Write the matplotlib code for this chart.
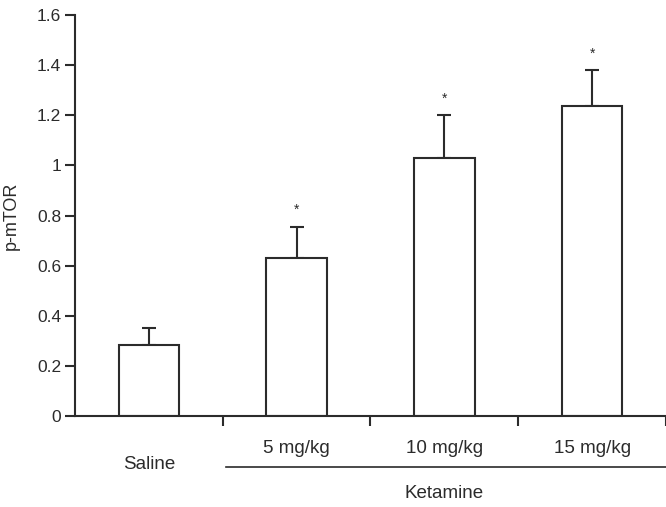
import matplotlib.pyplot as plt

plt.rcParams['font.family'] = ['Liberation Sans', 'DejaVu Sans']

groups = ["Saline", "5 mg/kg", "10 mg/kg", "15 mg/kg"]
means = [0.285, 0.63, 1.03, 1.235]
errors = [0.065, 0.125, 0.17, 0.145]
stars = ["", "*", "*", "*"]

ink = "#2b2b2b"
fig = plt.figure(figsize=(6.66, 5.07), dpi=100)
ax = fig.add_axes([0.1126, 0.1795, 0.8874, 0.7909])

x = range(len(groups))
ax.bar(x, means, width=0.41, color="white", edgecolor=ink, linewidth=1.5, zorder=2)
ax.errorbar(x, means, yerr=[[0] * len(errors), errors], fmt="none", ecolor=ink,
            elinewidth=1.5, capsize=5, capthick=1.5, zorder=1)
for i, (m, e, s) in enumerate(zip(means, errors, stars)):
    if s:
        ax.annotate(s, (i, m + e), xytext=(0, 7), textcoords="offset points",
                    ha="center", va="bottom", fontsize=10, color=ink)

ax.set_xlim(-0.5, 3.5)
ax.set_ylim(0, 1.6)
ax.set_yticks([0, 0.2, 0.4, 0.6, 0.8, 1, 1.2, 1.4, 1.6])
ax.set_yticklabels(["0", "0.2", "0.4", "0.6", "0.8", "1", "1.2", "1.4", "1.6"])
ax.set_xticks([0.5, 1.5, 2.5, 3.5])
ax.set_xticklabels([])
ax.tick_params(axis="y", direction="out", length=7, width=1.5, color=ink,
               labelsize=12.5, labelcolor=ink, pad=3)
ax.tick_params(axis="x", direction="out", length=7, width=1.5, color=ink)
for side in ["top", "right"]:
    ax.spines[side].set_visible(False)
for side in ["left", "bottom"]:
    ax.spines[side].set_linewidth(1.5)
    ax.spines[side].set_color(ink)
ax.set_ylabel("p-mTOR", fontsize=13, color=ink, labelpad=12)

# group labels under the axis
ax.text(0, -0.195, groups[0], ha="center", va="center",
        fontsize=13.5, color=ink, clip_on=False)
for i in range(1, 4):
    ax.text(i, -0.13, groups[i], ha="center", va="center", fontsize=13.5,
            color=ink, clip_on=False)
ax.plot([0.52, 3.5], [-0.205, -0.205], color=ink, lw=1.2, clip_on=False)
ax.text(2, -0.31, "Ketamine", ha="center", va="center", fontsize=13.5,
        color=ink, clip_on=False)

fig.savefig("out.png", dpi=100)
